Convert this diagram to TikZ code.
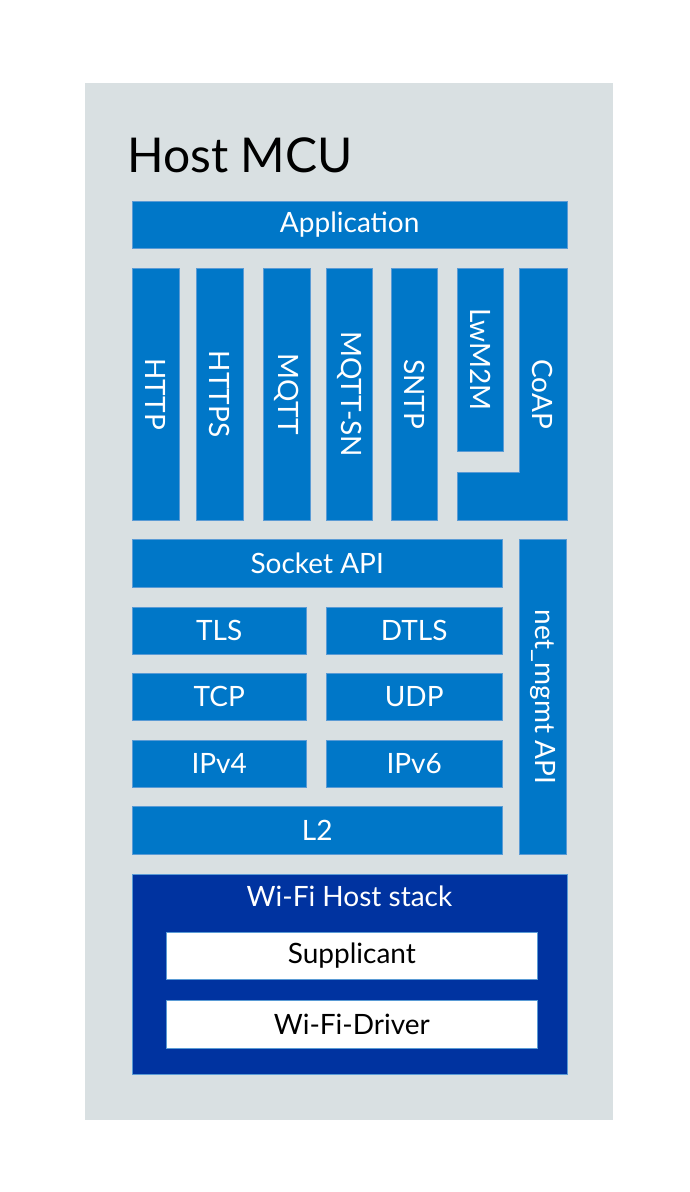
\documentclass[tikz,border=0pt]{standalone}
\usepackage{fontspec}
\setmainfont{Lato}
\definecolor{bgray}{HTML}{D9E0E2}
\definecolor{nblue}{HTML}{0077C8}
\definecolor{dblue}{HTML}{0033A0}
\definecolor{edgeblue}{HTML}{5A9BD5}
\tikzset{
  blk/.style={fill=nblue, draw=edgeblue, line width=0.4pt, inner sep=0pt, anchor=north west,
    text=white, font=\fontsize{28}{30}\selectfont},
  wbox/.style={fill=white, draw=edgeblue, line width=0.6pt, inner sep=0pt, anchor=north west,
    text=black, font=\fontsize{28}{30}\selectfont},
  lbl/.style={text=white, font=\fontsize{28}{30}\selectfont, inner sep=0pt},
  vlbl/.style={lbl, rotate=-90}
}
\begin{document}
\begin{tikzpicture}[x=1pt,y=-1pt]
\useasboundingbox (0,0) rectangle (689,1192);
\fill[white] (0,0) rectangle (689,1192);
\node[fill=bgray, inner sep=0pt, anchor=north west, minimum width=528, minimum height=1037] (mcu) at (85,83) {};
\node[anchor=base west, inner sep=0pt, font=\fontsize{48}{54}\selectfont] (title) at (127,172) {Host MCU};
% Application
\node[blk, minimum width=435, minimum height=47] (app) at (132,201) {Application};
% protocol columns
\node[blk, minimum width=47, minimum height=252] (http) at (132,268) {};
\node[vlbl] at (http.center) {HTTP};
\node[blk, minimum width=47, minimum height=252] (https) at (196,268) {};
\node[vlbl] at (https.center) {HTTPS};
\node[blk, minimum width=47, minimum height=252] (mqtt) at (263,268) {};
\node[vlbl] at (mqtt.center) {MQTT};
\node[blk, minimum width=46, minimum height=252] (mqttsn) at (326,268) {};
\node[vlbl] at (mqttsn.center) {MQTT-SN};
\node[blk, minimum width=46, minimum height=252] (sntp) at (391,268) {};
\node[vlbl] at (sntp.center) {SNTP};
\node[blk, minimum width=46, minimum height=183] (lwm2m) at (457,268) {};
\node[vlbl] at (lwm2m.center) {LwM2M};
\draw[fill=nblue, draw=edgeblue, line width=0.4pt] (457,472) -- (519,472) -- (519,268) -- (567,268) -- (567,520) -- (457,520) -- cycle;
\node[vlbl] (coap) at (543,394) {CoAP};
% socket layer
\node[blk, minimum width=370, minimum height=48] (sock) at (132,539) {Socket API};
\node[blk, minimum width=47, minimum height=315] (netm) at (519,539) {};
\node[vlbl] at (netm.center) {net\_mgmt API};
\node[blk, minimum width=174, minimum height=47] (tls) at (132,607) {TLS};
\node[blk, minimum width=176, minimum height=47] (dtls) at (326,607) {DTLS};
\node[blk, minimum width=174, minimum height=47] (tcp) at (132,673) {TCP};
\node[blk, minimum width=176, minimum height=47] (udp) at (326,673) {UDP};
\node[blk, minimum width=174, minimum height=47] (ipv4) at (132,740) {IPv4};
\node[blk, minimum width=176, minimum height=47] (ipv6) at (326,740) {IPv6};
\node[blk, minimum width=370, minimum height=48] (l2) at (132,806) {L2};
% Wi-Fi host stack
\node[fill=dblue, draw=edgeblue, line width=0.4pt, inner sep=0pt, anchor=north west, minimum width=435, minimum height=200] (wifi) at (132,874) {};
\node[lbl, anchor=base] (wifit) at (349.5,906) {Wi-Fi Host stack};
\node[wbox, minimum width=371, minimum height=47] (supp) at (166,932) {Supplicant};
\node[wbox, minimum width=371, minimum height=48] (drv) at (166,1000) {Wi-Fi-Driver};
\end{tikzpicture}
\end{document}
